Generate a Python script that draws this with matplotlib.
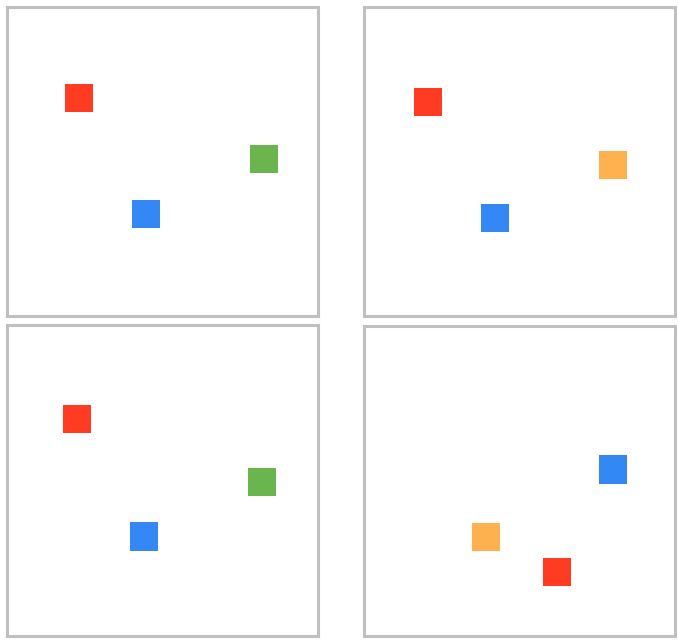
import matplotlib
matplotlib.use('Agg')
from matplotlib import pyplot as plt

# positions in panel units (0-100, y measured from the top)
panel1_x = [23.2, 82.6, 44.7]
panel1_y = [29.4, 49.2, 67.0]
panel1_colors = ['#ff3b22', '#6ab54e', '#3388f6']

panel2_x = [20.6, 80.1, 42.1]
panel2_y = [30.7, 51.1, 68.3]
panel2_colors = ['#ff3b22', '#ffb04f', '#3388f6']

panel3_x = [22.5, 82.0, 44.1]
panel3_y = [30.1, 50.5, 68.0]
panel3_colors = ['#ff3b22', '#6ab54e', '#3388f6']

panel4_x = [80.1, 39.2, 62.1]
panel4_y = [46.3, 68.0, 79.3]
panel4_colors = ['#3388f6', '#ffb04f', '#ff3b22']

W, H = 678, 643
fig = plt.figure(figsize=(W / 100, H / 100), dpi=100)

# panel boxes in pixels: left, top, right, bottom
boxes = [(7, 7, 318, 316), (364, 7, 675, 316),
         (7, 325, 318, 636), (364, 326, 675, 636)]
panels = [(panel1_x, panel1_y, panel1_colors),
          (panel2_x, panel2_y, panel2_colors),
          (panel3_x, panel3_y, panel3_colors),
          (panel4_x, panel4_y, panel4_colors)]

for (l, t, r, b), (xs, ys, cs) in zip(boxes, panels):
    ax = fig.add_axes([l / W, 1 - b / H, (r - l) / W, (b - t) / H])
    ax.scatter(xs, ys, c=cs, marker='s', s=410, linewidths=0)
    ax.set_xlim(0, 100)
    ax.set_ylim(100, 0)
    ax.set_xticks([])
    ax.set_yticks([])
    for sp in ax.spines.values():
        sp.set_color('#c0c0c0')
        sp.set_linewidth(2.2)

fig.savefig('out.png', dpi=100)
